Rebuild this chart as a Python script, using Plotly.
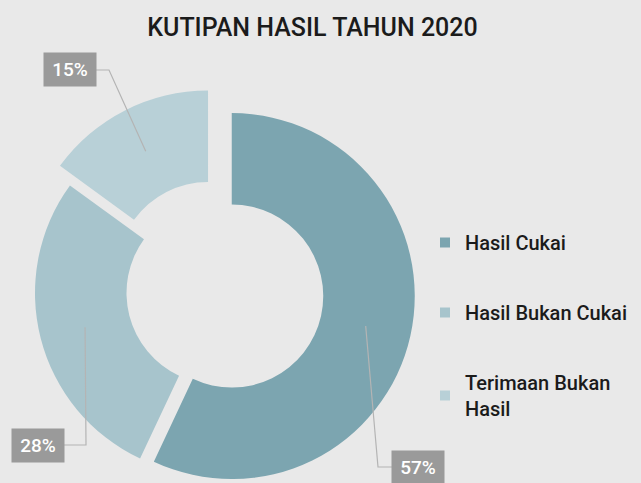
import math
import plotly.graph_objects as go

# ---- data ----
categories = ["Hasil Cukai", "Hasil Bukan Cukai", "Terimaan Bukan Hasil"]
legend_labels = ["Hasil Cukai", "Hasil Bukan Cukai", "Terimaan Bukan<br>Hasil"]
values = [57, 28, 15]
title_text = "KUTIPAN HASIL TAHUN 2020"

# ---- style / layout ----
colors = ["#7ca5b0", "#a7c4cc", "#b8d0d7"]
pulls = [0.077, 0.0, 0.12]
W = 641
CX, CY = 218, 293
R = 183
HOLE = 0.5
E = R * (1 + max(pulls))
H = int(math.ceil(CY + E))   # page is taller than the view; the bottom is cropped like the reference
BG = "#e9e9e9"
FONT = "Roboto"

label_box = [(418, 467), (38, 445), (70, 70)]   # box centres (px)
box_w, box_h = 52, 33
elbow_dx = [-14, 22, 13]


def px(x):
    return x / W


def py(y):
    return 1 - y / H


fig = go.Figure()
fig.add_trace(go.Pie(
    labels=categories, values=values, hole=HOLE, sort=False,
    direction="clockwise", rotation=0, pull=pulls,
    marker=dict(colors=colors, line=dict(width=0)),
    textinfo="none", hoverinfo="skip", showlegend=False,
    domain=dict(x=[(CX - E) / W, (CX + E) / W], y=[py(CY + E), py(CY - E)]),
))

# legend entries
for lab, col in zip(legend_labels, colors):
    fig.add_trace(go.Scatter(
        x=[None], y=[None], mode="markers", name=lab, legendgroup=lab,
        marker=dict(symbol="square", size=10, color=col), hoverinfo="skip",
    ))

total = sum(values)
shapes, annotations = [], []
cum = 0
for i, v in enumerate(values):
    theta = 2 * math.pi * (cum + v / 2) / total
    cum += v
    pcx = CX + pulls[i] * R * math.sin(theta)
    pcy = CY - pulls[i] * R * math.cos(theta)
    rm = R * (1 + HOLE) / 2
    ix = pcx + rm * math.sin(theta)
    iy = pcy - rm * math.cos(theta)
    bx, by = label_box[i]
    edge = bx + box_w / 2 if elbow_dx[i] > 0 else bx - box_w / 2
    ex = edge + elbow_dx[i]
    shapes.append(dict(
        type="path", xref="paper", yref="paper",
        path=f"M {px(ix)},{py(iy)} L {px(ex)},{py(by)} L {px(edge)},{py(by)}",
        line=dict(color="#b4b4b4", width=1.2),
    ))
    annotations.append(dict(
        x=px(bx), y=py(by), xref="paper", yref="paper",
        text=f"{round(v / total * 100)}%", showarrow=False,
        bgcolor="#9a9a9a", width=box_w, height=box_h, borderpad=0,
        xanchor="center", yanchor="middle",
        font=dict(family=FONT, size=19, color="white", weight=500),
    ))

fig.update_layout(
    width=W, height=H,
    margin=dict(l=0, r=0, t=0, b=0, autoexpand=False),
    paper_bgcolor=BG, plot_bgcolor=BG,
    title=dict(text=title_text, x=312.5 / W, xanchor="center",
               y=py(27), yanchor="middle",
               font=dict(family=FONT, size=25, color="#1b1b1b", weight=500)),
    xaxis=dict(visible=False), yaxis=dict(visible=False),
    legend=dict(x=px(425), xanchor="left", y=py(223), yanchor="top",
                tracegroupgap=41, bgcolor="rgba(0,0,0,0)",
                font=dict(family=FONT, size=20, color="#1b1b1b", weight=500)),
    shapes=shapes, annotations=annotations,
)

fig.write_html(
    "out.html",
    config={"displayModeBar": False},
    post_script="document.body.style.margin='0';"
                "document.body.style.overflow='hidden';"
                "document.body.style.background='" + BG + "';",
)
